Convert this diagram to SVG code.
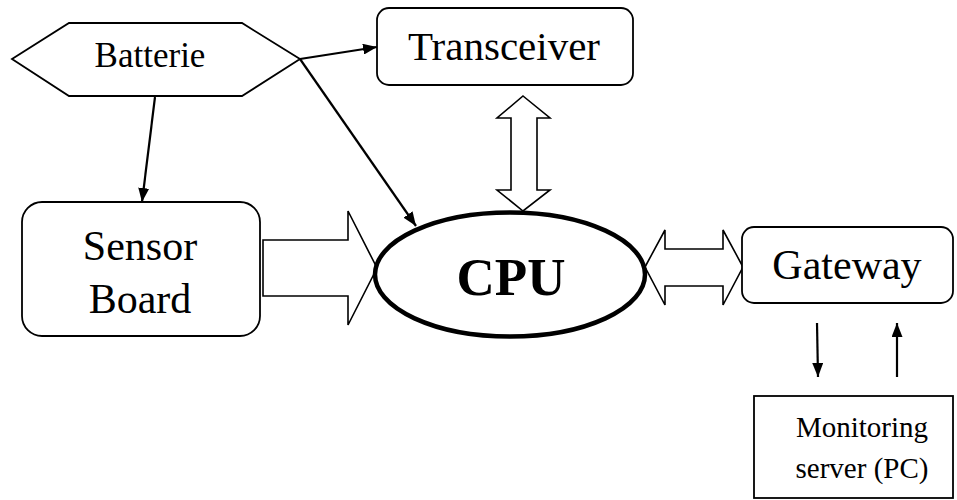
<svg xmlns="http://www.w3.org/2000/svg" width="957" height="500" viewBox="0 0 957 500">
<defs>
<marker id="ah" viewBox="0 0 14 11" refX="14" refY="5.5" markerWidth="14" markerHeight="11" markerUnits="userSpaceOnUse" orient="auto">
<path d="M0,0 L14,5.5 L0,11 Z" fill="#000"/>
</marker>
</defs>
<style>
.box{fill:#fff;stroke:#000;stroke-width:1.8}
.t{font-family:"Liberation Serif","Times New Roman",serif;fill:#000;text-anchor:middle}
.ln{stroke:#000;stroke-width:2.2;fill:none}
.big{fill:#fff;stroke:#000;stroke-width:1.6;stroke-linejoin:miter}
</style>
<rect width="957" height="500" fill="#fff"/>
<g id="connectors">
<line class="ln" x1="155" y1="97" x2="142" y2="202" marker-end="url(#ah)"/>
<line class="ln" x1="300" y1="59" x2="377" y2="47" marker-end="url(#ah)"/>
<line class="ln" x1="300" y1="59" x2="416" y2="226" marker-end="url(#ah)"/>
<path class="big" d="M263,240 H348 V211 L377,268 L348,325 V296 H263 Z"/>
<path class="big" d="M523,96 L550,118 H537 V190 H550 L523,211 L497,190 H511 V118 H497 Z"/>
<path class="big" d="M645,267 L665,230 V249 H723 V230 L743,267 L723,305 V286 H665 V305 Z"/>
<line class="ln" x1="817" y1="323" x2="818" y2="377" marker-end="url(#ah)"/>
<line class="ln" x1="897" y1="377" x2="897" y2="323" marker-end="url(#ah)"/>
</g>
<g id="batterie">
<polygon class="box" points="12,59 69,23 242,23 300,59 242,96 69,96"/>
<text class="t" x="150" y="67" font-size="35">Batterie</text>
</g>
<g id="transceiver">
<rect class="box" x="377" y="8" width="256" height="77" rx="12"/>
<text class="t" x="504" y="60" font-size="41">Transceiver</text>
</g>
<g id="sensor">
<rect class="box" x="22" y="202" width="238" height="134" rx="20"/>
<text class="t" x="140" y="260" font-size="42">Sensor</text>
<text class="t" x="140" y="313" font-size="42">Board</text>
</g>
<g id="cpu">
<ellipse cx="510" cy="274.5" rx="135" ry="62" fill="none" stroke="#000" stroke-width="4.5"/>
<text class="t" x="511" y="295" font-size="53" font-weight="bold">CPU</text>
</g>
<g id="gateway">
<rect class="box" x="742" y="227" width="211" height="76" rx="12"/>
<text class="t" x="847" y="279" font-size="42">Gateway</text>
</g>
<g id="monitoring">
<rect class="box" x="754" y="396" width="199" height="102"/>
<text class="t" x="862" y="437" font-size="29">Monitoring</text>
<text class="t" x="862" y="478" font-size="29">server (PC)</text>
</g>
</svg>
